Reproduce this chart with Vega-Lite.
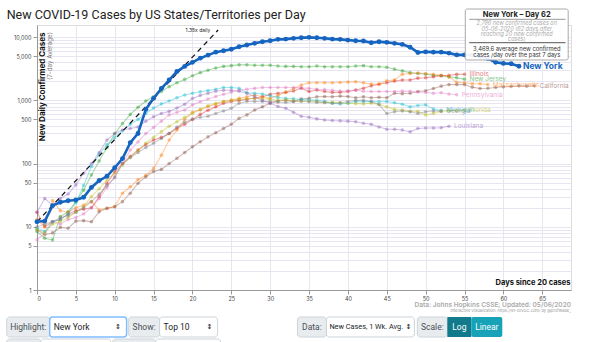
{
"$schema": "https://vega.github.io/schema/vega-lite/v6.json",
"width": 534, "height": 265,
"autosize": {"type": "none"},
"padding": {"left": 37, "top": 25, "right": 29, "bottom": 52},
"config": {"view": {"stroke": "#dcdcdc"}},
"datasets": {"cases": [
{"state":"New York","day":0,"cases":12},{"state":"New York","day":1,"cases":12.3},{"state":"New York","day":2,"cases":21.6},{"state":"New York","day":3,"cases":24.4},{"state":"New York","day":4,"cases":25.9},{"state":"New York","day":5,"cases":26.5},{"state":"New York","day":6,"cases":29.3},{"state":"New York","day":7,"cases":42},{"state":"New York","day":8,"cases":54},{"state":"New York","day":9,"cases":63},{"state":"New York","day":10,"cases":86},{"state":"New York","day":11,"cases":120},{"state":"New York","day":12,"cases":215},{"state":"New York","day":13,"cases":300},{"state":"New York","day":14,"cases":720},{"state":"New York","day":15,"cases":1077},{"state":"New York","day":16,"cases":1540},{"state":"New York","day":17,"cases":2100},{"state":"New York","day":18,"cases":2860},{"state":"New York","day":19,"cases":3450},{"state":"New York","day":20,"cases":4000},{"state":"New York","day":21,"cases":4660},{"state":"New York","day":22,"cases":5200},{"state":"New York","day":23,"cases":5800},{"state":"New York","day":24,"cases":6120},{"state":"New York","day":25,"cases":6450},{"state":"New York","day":26,"cases":7080},{"state":"New York","day":27,"cases":7530},{"state":"New York","day":28,"cases":8000},{"state":"New York","day":29,"cases":8480},{"state":"New York","day":30,"cases":8800},{"state":"New York","day":31,"cases":9250},{"state":"New York","day":32,"cases":9340},{"state":"New York","day":33,"cases":9600},{"state":"New York","day":34,"cases":9800},{"state":"New York","day":35,"cases":9940},{"state":"New York","day":36,"cases":9800},{"state":"New York","day":37,"cases":9600},{"state":"New York","day":38,"cases":9340},{"state":"New York","day":39,"cases":9250},{"state":"New York","day":40,"cases":9000},{"state":"New York","day":41,"cases":8800},{"state":"New York","day":42,"cases":8700},{"state":"New York","day":43,"cases":8170},{"state":"New York","day":44,"cases":8480},{"state":"New York","day":45,"cases":8290},{"state":"New York","day":46,"cases":8000},{"state":"New York","day":47,"cases":7700},{"state":"New York","day":48,"cases":6940},{"state":"New York","day":49,"cases":5740},{"state":"New York","day":50,"cases":5870},{"state":"New York","day":51,"cases":5800},{"state":"New York","day":52,"cases":5800},{"state":"New York","day":53,"cases":5600},{"state":"New York","day":54,"cases":5250},{"state":"New York","day":55,"cases":5250},{"state":"New York","day":56,"cases":5200},{"state":"New York","day":57,"cases":4900},{"state":"New York","day":58,"cases":4600},{"state":"New York","day":59,"cases":4000},{"state":"New York","day":60,"cases":3850},{"state":"New York","day":61,"cases":3800},{"state":"New York","day":62,"cases":3470},
{"state":"New Jersey","day":0,"cases":8.4},{"state":"New Jersey","day":1,"cases":6.6},{"state":"New Jersey","day":2,"cases":6.2},{"state":"New Jersey","day":3,"cases":14.5},{"state":"New Jersey","day":4,"cases":17.3},{"state":"New Jersey","day":5,"cases":25},{"state":"New Jersey","day":6,"cases":38},{"state":"New Jersey","day":7,"cases":66},{"state":"New Jersey","day":8,"cases":110},{"state":"New Jersey","day":9,"cases":180},{"state":"New Jersey","day":10,"cases":300},{"state":"New Jersey","day":11,"cases":430},{"state":"New Jersey","day":12,"cases":600},{"state":"New Jersey","day":13,"cases":780},{"state":"New Jersey","day":14,"cases":980},{"state":"New Jersey","day":15,"cases":1150},{"state":"New Jersey","day":16,"cases":1380},{"state":"New Jersey","day":17,"cases":1650},{"state":"New Jersey","day":18,"cases":1900},{"state":"New Jersey","day":19,"cases":2150},{"state":"New Jersey","day":20,"cases":2450},{"state":"New Jersey","day":21,"cases":2750},{"state":"New Jersey","day":22,"cases":3000},{"state":"New Jersey","day":23,"cases":3250},{"state":"New Jersey","day":24,"cases":3450},{"state":"New Jersey","day":25,"cases":3550},{"state":"New Jersey","day":26,"cases":3650},{"state":"New Jersey","day":27,"cases":3650},{"state":"New Jersey","day":28,"cases":3600},{"state":"New Jersey","day":29,"cases":3600},{"state":"New Jersey","day":30,"cases":3600},{"state":"New Jersey","day":31,"cases":3500},{"state":"New Jersey","day":32,"cases":3450},{"state":"New Jersey","day":33,"cases":3450},{"state":"New Jersey","day":34,"cases":3400},{"state":"New Jersey","day":35,"cases":3400},{"state":"New Jersey","day":36,"cases":3500},{"state":"New Jersey","day":37,"cases":3400},{"state":"New Jersey","day":38,"cases":3400},{"state":"New Jersey","day":39,"cases":3400},{"state":"New Jersey","day":40,"cases":3400},{"state":"New Jersey","day":41,"cases":3500},{"state":"New Jersey","day":42,"cases":3550},{"state":"New Jersey","day":43,"cases":3400},{"state":"New Jersey","day":44,"cases":3400},{"state":"New Jersey","day":45,"cases":3350},{"state":"New Jersey","day":46,"cases":3120},{"state":"New Jersey","day":47,"cases":2930},{"state":"New Jersey","day":48,"cases":2750},{"state":"New Jersey","day":49,"cases":2660},{"state":"New Jersey","day":50,"cases":2600},{"state":"New Jersey","day":51,"cases":2500},{"state":"New Jersey","day":52,"cases":2450},{"state":"New Jersey","day":53,"cases":2360},{"state":"New Jersey","day":54,"cases":2280},{"state":"New Jersey","day":55,"cases":2170},
{"state":"Illinois","day":0,"cases":17},{"state":"Illinois","day":1,"cases":10},{"state":"Illinois","day":2,"cases":12},{"state":"Illinois","day":3,"cases":13},{"state":"Illinois","day":4,"cases":16},{"state":"Illinois","day":5,"cases":18},{"state":"Illinois","day":6,"cases":19},{"state":"Illinois","day":7,"cases":20},{"state":"Illinois","day":8,"cases":30},{"state":"Illinois","day":9,"cases":49},{"state":"Illinois","day":10,"cases":74},{"state":"Illinois","day":11,"cases":100},{"state":"Illinois","day":12,"cases":130},{"state":"Illinois","day":13,"cases":164},{"state":"Illinois","day":14,"cases":200},{"state":"Illinois","day":15,"cases":236},{"state":"Illinois","day":16,"cases":260},{"state":"Illinois","day":17,"cases":300},{"state":"Illinois","day":18,"cases":360},{"state":"Illinois","day":19,"cases":420},{"state":"Illinois","day":20,"cases":500},{"state":"Illinois","day":21,"cases":600},{"state":"Illinois","day":22,"cases":700},{"state":"Illinois","day":23,"cases":790},{"state":"Illinois","day":24,"cases":900},{"state":"Illinois","day":25,"cases":960},{"state":"Illinois","day":26,"cases":1000},{"state":"Illinois","day":27,"cases":1040},{"state":"Illinois","day":28,"cases":1080},{"state":"Illinois","day":29,"cases":1140},{"state":"Illinois","day":30,"cases":1250},{"state":"Illinois","day":31,"cases":1300},{"state":"Illinois","day":32,"cases":1340},{"state":"Illinois","day":33,"cases":1410},{"state":"Illinois","day":34,"cases":1560},{"state":"Illinois","day":35,"cases":1380},{"state":"Illinois","day":36,"cases":1460},{"state":"Illinois","day":37,"cases":1380},{"state":"Illinois","day":38,"cases":1340},{"state":"Illinois","day":39,"cases":1340},{"state":"Illinois","day":40,"cases":1380},{"state":"Illinois","day":41,"cases":1460},{"state":"Illinois","day":42,"cases":1560},{"state":"Illinois","day":43,"cases":1700},{"state":"Illinois","day":44,"cases":1800},{"state":"Illinois","day":45,"cases":1900},{"state":"Illinois","day":46,"cases":2020},{"state":"Illinois","day":47,"cases":2100},{"state":"Illinois","day":48,"cases":2100},{"state":"Illinois","day":49,"cases":2250},{"state":"Illinois","day":50,"cases":2280},{"state":"Illinois","day":51,"cases":2360},{"state":"Illinois","day":52,"cases":2450},{"state":"Illinois","day":53,"cases":2500},{"state":"Illinois","day":54,"cases":2580},{"state":"Illinois","day":55,"cases":2600},
{"state":"Massachusetts","day":0,"cases":13},{"state":"Massachusetts","day":1,"cases":10},{"state":"Massachusetts","day":2,"cases":26},{"state":"Massachusetts","day":3,"cases":18},{"state":"Massachusetts","day":4,"cases":17},{"state":"Massachusetts","day":5,"cases":20},{"state":"Massachusetts","day":6,"cases":22},{"state":"Massachusetts","day":7,"cases":25},{"state":"Massachusetts","day":8,"cases":18.4},{"state":"Massachusetts","day":9,"cases":19.6},{"state":"Massachusetts","day":10,"cases":21},{"state":"Massachusetts","day":11,"cases":34},{"state":"Massachusetts","day":12,"cases":43},{"state":"Massachusetts","day":13,"cases":56},{"state":"Massachusetts","day":14,"cases":65},{"state":"Massachusetts","day":15,"cases":84},{"state":"Massachusetts","day":16,"cases":136},{"state":"Massachusetts","day":17,"cases":236},{"state":"Massachusetts","day":18,"cases":340},{"state":"Massachusetts","day":19,"cases":500},{"state":"Massachusetts","day":20,"cases":650},{"state":"Massachusetts","day":21,"cases":705},{"state":"Massachusetts","day":22,"cases":800},{"state":"Massachusetts","day":23,"cases":870},{"state":"Massachusetts","day":24,"cases":960},{"state":"Massachusetts","day":25,"cases":1015},{"state":"Massachusetts","day":26,"cases":1077},{"state":"Massachusetts","day":27,"cases":1140},{"state":"Massachusetts","day":28,"cases":1220},{"state":"Massachusetts","day":29,"cases":1140},{"state":"Massachusetts","day":30,"cases":1077},{"state":"Massachusetts","day":31,"cases":1200},{"state":"Massachusetts","day":32,"cases":1350},{"state":"Massachusetts","day":33,"cases":1540},{"state":"Massachusetts","day":34,"cases":1750},{"state":"Massachusetts","day":35,"cases":1900},{"state":"Massachusetts","day":36,"cases":1900},{"state":"Massachusetts","day":37,"cases":1900},{"state":"Massachusetts","day":38,"cases":1900},{"state":"Massachusetts","day":39,"cases":1920},{"state":"Massachusetts","day":40,"cases":1950},{"state":"Massachusetts","day":41,"cases":1970},{"state":"Massachusetts","day":42,"cases":1900},{"state":"Massachusetts","day":43,"cases":1820},{"state":"Massachusetts","day":44,"cases":1820},{"state":"Massachusetts","day":45,"cases":2040},{"state":"Massachusetts","day":46,"cases":2100},{"state":"Massachusetts","day":47,"cases":2600},{"state":"Massachusetts","day":48,"cases":2660},{"state":"Massachusetts","day":49,"cases":2720},{"state":"Massachusetts","day":50,"cases":2660},{"state":"Massachusetts","day":51,"cases":2580},{"state":"Massachusetts","day":52,"cases":2500},{"state":"Massachusetts","day":53,"cases":2360},{"state":"Massachusetts","day":54,"cases":1940},{"state":"Massachusetts","day":55,"cases":1900},{"state":"Massachusetts","day":56,"cases":1830},{"state":"Massachusetts","day":57,"cases":1830},{"state":"Massachusetts","day":58,"cases":1780},
{"state":"California","day":0,"cases":9},{"state":"California","day":1,"cases":7.5},{"state":"California","day":2,"cases":8},{"state":"California","day":3,"cases":9.8},{"state":"California","day":4,"cases":9.5},{"state":"California","day":5,"cases":12.3},{"state":"California","day":6,"cases":12.5},{"state":"California","day":7,"cases":12},{"state":"California","day":8,"cases":17.3},{"state":"California","day":9,"cases":19.6},{"state":"California","day":10,"cases":20.8},{"state":"California","day":11,"cases":25},{"state":"California","day":12,"cases":34},{"state":"California","day":13,"cases":49},{"state":"California","day":14,"cases":62},{"state":"California","day":15,"cases":75},{"state":"California","day":16,"cases":81},{"state":"California","day":17,"cases":100},{"state":"California","day":18,"cases":121},{"state":"California","day":19,"cases":150},{"state":"California","day":20,"cases":185},{"state":"California","day":21,"cases":222},{"state":"California","day":22,"cases":265},{"state":"California","day":23,"cases":308},{"state":"California","day":24,"cases":360},{"state":"California","day":25,"cases":420},{"state":"California","day":26,"cases":520},{"state":"California","day":27,"cases":590},{"state":"California","day":28,"cases":705},{"state":"California","day":29,"cases":790},{"state":"California","day":30,"cases":900},{"state":"California","day":31,"cases":980},{"state":"California","day":32,"cases":1015},{"state":"California","day":33,"cases":960},{"state":"California","day":34,"cases":1050},{"state":"California","day":35,"cases":1080},{"state":"California","day":36,"cases":1140},{"state":"California","day":37,"cases":1150},{"state":"California","day":38,"cases":1140},{"state":"California","day":39,"cases":1170},{"state":"California","day":40,"cases":1150},{"state":"California","day":41,"cases":1100},{"state":"California","day":42,"cases":1140},{"state":"California","day":43,"cases":1100},{"state":"California","day":44,"cases":1120},{"state":"California","day":45,"cases":1100},{"state":"California","day":46,"cases":1300},{"state":"California","day":47,"cases":1280},{"state":"California","day":48,"cases":1300},{"state":"California","day":49,"cases":1380},{"state":"California","day":50,"cases":1420},{"state":"California","day":51,"cases":1540},{"state":"California","day":52,"cases":1680},{"state":"California","day":53,"cases":1780},{"state":"California","day":54,"cases":1780},{"state":"California","day":55,"cases":1780},{"state":"California","day":56,"cases":1620},{"state":"California","day":57,"cases":1540},{"state":"California","day":58,"cases":1560},{"state":"California","day":59,"cases":1600},{"state":"California","day":60,"cases":1640},{"state":"California","day":61,"cases":1660},{"state":"California","day":62,"cases":1700},{"state":"California","day":63,"cases":1680},{"state":"California","day":64,"cases":1700},
{"state":"Pennsylvania","day":0,"cases":6.2},{"state":"Pennsylvania","day":1,"cases":8},{"state":"Pennsylvania","day":2,"cases":12},{"state":"Pennsylvania","day":3,"cases":11},{"state":"Pennsylvania","day":4,"cases":13},{"state":"Pennsylvania","day":5,"cases":14},{"state":"Pennsylvania","day":6,"cases":16},{"state":"Pennsylvania","day":7,"cases":20},{"state":"Pennsylvania","day":8,"cases":28},{"state":"Pennsylvania","day":9,"cases":42},{"state":"Pennsylvania","day":10,"cases":62},{"state":"Pennsylvania","day":11,"cases":100},{"state":"Pennsylvania","day":12,"cases":164},{"state":"Pennsylvania","day":13,"cases":220},{"state":"Pennsylvania","day":14,"cases":300},{"state":"Pennsylvania","day":15,"cases":375},{"state":"Pennsylvania","day":16,"cases":470},{"state":"Pennsylvania","day":17,"cases":590},{"state":"Pennsylvania","day":18,"cases":650},{"state":"Pennsylvania","day":19,"cases":705},{"state":"Pennsylvania","day":20,"cases":850},{"state":"Pennsylvania","day":21,"cases":950},{"state":"Pennsylvania","day":22,"cases":1050},{"state":"Pennsylvania","day":23,"cases":1150},{"state":"Pennsylvania","day":24,"cases":1250},{"state":"Pennsylvania","day":25,"cases":1350},{"state":"Pennsylvania","day":26,"cases":1450},{"state":"Pennsylvania","day":27,"cases":1500},{"state":"Pennsylvania","day":28,"cases":1550},{"state":"Pennsylvania","day":29,"cases":1600},{"state":"Pennsylvania","day":30,"cases":1600},{"state":"Pennsylvania","day":31,"cases":1600},{"state":"Pennsylvania","day":32,"cases":1600},{"state":"Pennsylvania","day":33,"cases":1600},{"state":"Pennsylvania","day":34,"cases":1580},{"state":"Pennsylvania","day":35,"cases":1550},{"state":"Pennsylvania","day":36,"cases":1500},{"state":"Pennsylvania","day":37,"cases":1480},{"state":"Pennsylvania","day":38,"cases":1450},{"state":"Pennsylvania","day":39,"cases":1400},{"state":"Pennsylvania","day":40,"cases":1420},{"state":"Pennsylvania","day":41,"cases":1450},{"state":"Pennsylvania","day":42,"cases":1400},{"state":"Pennsylvania","day":43,"cases":1380},{"state":"Pennsylvania","day":44,"cases":1380},{"state":"Pennsylvania","day":45,"cases":1380},{"state":"Pennsylvania","day":46,"cases":1380},{"state":"Pennsylvania","day":47,"cases":1400},{"state":"Pennsylvania","day":48,"cases":1390},{"state":"Pennsylvania","day":49,"cases":1360},{"state":"Pennsylvania","day":50,"cases":1340},{"state":"Pennsylvania","day":51,"cases":1300},{"state":"Pennsylvania","day":52,"cases":1320},{"state":"Pennsylvania","day":53,"cases":1260},{"state":"Pennsylvania","day":54,"cases":1230},
{"state":"Michigan","day":0,"cases":9.5},{"state":"Michigan","day":1,"cases":8.4},{"state":"Michigan","day":2,"cases":12},{"state":"Michigan","day":3,"cases":13},{"state":"Michigan","day":4,"cases":16},{"state":"Michigan","day":5,"cases":24},{"state":"Michigan","day":6,"cases":45},{"state":"Michigan","day":7,"cases":90},{"state":"Michigan","day":8,"cases":141},{"state":"Michigan","day":9,"cases":200},{"state":"Michigan","day":10,"cases":260},{"state":"Michigan","day":11,"cases":330},{"state":"Michigan","day":12,"cases":420},{"state":"Michigan","day":13,"cases":500},{"state":"Michigan","day":14,"cases":620},{"state":"Michigan","day":15,"cases":760},{"state":"Michigan","day":16,"cases":880},{"state":"Michigan","day":17,"cases":980},{"state":"Michigan","day":18,"cases":1100},{"state":"Michigan","day":19,"cases":1220},{"state":"Michigan","day":20,"cases":1300},{"state":"Michigan","day":21,"cases":1370},{"state":"Michigan","day":22,"cases":1430},{"state":"Michigan","day":23,"cases":1500},{"state":"Michigan","day":24,"cases":1600},{"state":"Michigan","day":25,"cases":1600},{"state":"Michigan","day":26,"cases":1560},{"state":"Michigan","day":27,"cases":1320},{"state":"Michigan","day":28,"cases":1290},{"state":"Michigan","day":29,"cases":1260},{"state":"Michigan","day":30,"cases":1180},{"state":"Michigan","day":31,"cases":1110},{"state":"Michigan","day":32,"cases":1080},{"state":"Michigan","day":33,"cases":1060},{"state":"Michigan","day":34,"cases":1040},{"state":"Michigan","day":35,"cases":1020},{"state":"Michigan","day":36,"cases":1000},{"state":"Michigan","day":37,"cases":970},{"state":"Michigan","day":38,"cases":900},{"state":"Michigan","day":39,"cases":880},{"state":"Michigan","day":40,"cases":900},{"state":"Michigan","day":41,"cases":960},{"state":"Michigan","day":42,"cases":950},{"state":"Michigan","day":43,"cases":960},{"state":"Michigan","day":44,"cases":950},{"state":"Michigan","day":45,"cases":960},{"state":"Michigan","day":46,"cases":920},{"state":"Michigan","day":47,"cases":870},{"state":"Michigan","day":48,"cases":790},{"state":"Michigan","day":49,"cases":830},{"state":"Michigan","day":50,"cases":850},{"state":"Michigan","day":51,"cases":730},{"state":"Michigan","day":52,"cases":700},
{"state":"Florida","day":0,"cases":9},{"state":"Florida","day":1,"cases":8},{"state":"Florida","day":2,"cases":11},{"state":"Florida","day":3,"cases":12},{"state":"Florida","day":4,"cases":14},{"state":"Florida","day":5,"cases":17},{"state":"Florida","day":6,"cases":21},{"state":"Florida","day":7,"cases":30},{"state":"Florida","day":8,"cases":40},{"state":"Florida","day":9,"cases":55},{"state":"Florida","day":10,"cases":70},{"state":"Florida","day":11,"cases":95},{"state":"Florida","day":12,"cases":125},{"state":"Florida","day":13,"cases":160},{"state":"Florida","day":14,"cases":210},{"state":"Florida","day":15,"cases":260},{"state":"Florida","day":16,"cases":320},{"state":"Florida","day":17,"cases":390},{"state":"Florida","day":18,"cases":460},{"state":"Florida","day":19,"cases":540},{"state":"Florida","day":20,"cases":620},{"state":"Florida","day":21,"cases":720},{"state":"Florida","day":22,"cases":820},{"state":"Florida","day":23,"cases":900},{"state":"Florida","day":24,"cases":960},{"state":"Florida","day":25,"cases":1000},{"state":"Florida","day":26,"cases":1040},{"state":"Florida","day":27,"cases":1060},{"state":"Florida","day":28,"cases":1080},{"state":"Florida","day":29,"cases":1060},{"state":"Florida","day":30,"cases":1040},{"state":"Florida","day":31,"cases":1000},{"state":"Florida","day":32,"cases":1020},{"state":"Florida","day":33,"cases":1000},{"state":"Florida","day":34,"cases":960},{"state":"Florida","day":35,"cases":980},{"state":"Florida","day":36,"cases":960},{"state":"Florida","day":37,"cases":920},{"state":"Florida","day":38,"cases":940},{"state":"Florida","day":39,"cases":920},{"state":"Florida","day":40,"cases":900},{"state":"Florida","day":41,"cases":890},{"state":"Florida","day":42,"cases":880},{"state":"Florida","day":43,"cases":900},{"state":"Florida","day":44,"cases":860},{"state":"Florida","day":45,"cases":790},{"state":"Florida","day":46,"cases":720},{"state":"Florida","day":47,"cases":705},{"state":"Florida","day":48,"cases":670},{"state":"Florida","day":49,"cases":670},{"state":"Florida","day":50,"cases":590},{"state":"Florida","day":51,"cases":620},{"state":"Florida","day":52,"cases":670},{"state":"Florida","day":53,"cases":690},{"state":"Florida","day":54,"cases":690},{"state":"Florida","day":55,"cases":700},
{"state":"Louisiana","day":0,"cases":17},{"state":"Louisiana","day":1,"cases":28},{"state":"Louisiana","day":2,"cases":22},{"state":"Louisiana","day":3,"cases":28},{"state":"Louisiana","day":4,"cases":33},{"state":"Louisiana","day":5,"cases":46},{"state":"Louisiana","day":6,"cases":70},{"state":"Louisiana","day":7,"cases":100},{"state":"Louisiana","day":8,"cases":150},{"state":"Louisiana","day":9,"cases":236},{"state":"Louisiana","day":10,"cases":300},{"state":"Louisiana","day":11,"cases":340},{"state":"Louisiana","day":12,"cases":360},{"state":"Louisiana","day":13,"cases":380},{"state":"Louisiana","day":14,"cases":470},{"state":"Louisiana","day":15,"cases":550},{"state":"Louisiana","day":16,"cases":620},{"state":"Louisiana","day":17,"cases":670},{"state":"Louisiana","day":18,"cases":760},{"state":"Louisiana","day":19,"cases":870},{"state":"Louisiana","day":20,"cases":1077},{"state":"Louisiana","day":21,"cases":1200},{"state":"Louisiana","day":22,"cases":1300},{"state":"Louisiana","day":23,"cases":1400},{"state":"Louisiana","day":24,"cases":1450},{"state":"Louisiana","day":25,"cases":1450},{"state":"Louisiana","day":26,"cases":1400},{"state":"Louisiana","day":27,"cases":1300},{"state":"Louisiana","day":28,"cases":1150},{"state":"Louisiana","day":29,"cases":1000},{"state":"Louisiana","day":30,"cases":900},{"state":"Louisiana","day":31,"cases":800},{"state":"Louisiana","day":32,"cases":750},{"state":"Louisiana","day":33,"cases":650},{"state":"Louisiana","day":34,"cases":560},{"state":"Louisiana","day":35,"cases":540},{"state":"Louisiana","day":36,"cases":510},{"state":"Louisiana","day":37,"cases":490},{"state":"Louisiana","day":38,"cases":480},{"state":"Louisiana","day":39,"cases":475},{"state":"Louisiana","day":40,"cases":470},{"state":"Louisiana","day":41,"cases":460},{"state":"Louisiana","day":42,"cases":435},{"state":"Louisiana","day":43,"cases":420},{"state":"Louisiana","day":44,"cases":380},{"state":"Louisiana","day":45,"cases":350},{"state":"Louisiana","day":46,"cases":350},{"state":"Louisiana","day":47,"cases":340},{"state":"Louisiana","day":48,"cases":318},{"state":"Louisiana","day":49,"cases":360},{"state":"Louisiana","day":50,"cases":365},{"state":"Louisiana","day":51,"cases":365},{"state":"Louisiana","day":52,"cases":370},{"state":"Louisiana","day":53,"cases":390},
{"state":"Georgia","day":0,"cases":10},{"state":"Georgia","day":1,"cases":11},{"state":"Georgia","day":2,"cases":12},{"state":"Georgia","day":3,"cases":14},{"state":"Georgia","day":4,"cases":15},{"state":"Georgia","day":5,"cases":17},{"state":"Georgia","day":6,"cases":20},{"state":"Georgia","day":7,"cases":25},{"state":"Georgia","day":8,"cases":33},{"state":"Georgia","day":9,"cases":45},{"state":"Georgia","day":10,"cases":60},{"state":"Georgia","day":11,"cases":100},{"state":"Georgia","day":12,"cases":125},{"state":"Georgia","day":13,"cases":150},{"state":"Georgia","day":14,"cases":180},{"state":"Georgia","day":15,"cases":210},{"state":"Georgia","day":16,"cases":250},{"state":"Georgia","day":17,"cases":300},{"state":"Georgia","day":18,"cases":380},{"state":"Georgia","day":19,"cases":450},{"state":"Georgia","day":20,"cases":505},{"state":"Georgia","day":21,"cases":540},{"state":"Georgia","day":22,"cases":560},{"state":"Georgia","day":23,"cases":620},{"state":"Georgia","day":24,"cases":680},{"state":"Georgia","day":25,"cases":750},{"state":"Georgia","day":26,"cases":900},{"state":"Georgia","day":27,"cases":960},{"state":"Georgia","day":28,"cases":960},{"state":"Georgia","day":29,"cases":960},{"state":"Georgia","day":30,"cases":960},{"state":"Georgia","day":31,"cases":940},{"state":"Georgia","day":32,"cases":930},{"state":"Georgia","day":33,"cases":960},{"state":"Georgia","day":34,"cases":980},{"state":"Georgia","day":35,"cases":950},{"state":"Georgia","day":36,"cases":930},{"state":"Georgia","day":37,"cases":930},{"state":"Georgia","day":38,"cases":900},{"state":"Georgia","day":39,"cases":920},{"state":"Georgia","day":40,"cases":960},{"state":"Georgia","day":41,"cases":1000},{"state":"Georgia","day":42,"cases":1000},{"state":"Georgia","day":43,"cases":960},{"state":"Georgia","day":44,"cases":860},{"state":"Georgia","day":45,"cases":620},{"state":"Georgia","day":46,"cases":660},{"state":"Georgia","day":47,"cases":680},{"state":"Georgia","day":48,"cases":660},{"state":"Georgia","day":49,"cases":620},{"state":"Georgia","day":50,"cases":660},{"state":"Georgia","day":51,"cases":680},{"state":"Georgia","day":52,"cases":670}
]},
"layer": [
{"data": {"name": "cases"}, "transform": [{"filter": "datum.state != 'New York'"}],
 "mark": {"type": "line", "strokeWidth": 1.1, "opacity": 0.4},
 "encoding": {
  "x": {"field": "day", "type": "quantitative", "scale": {"domain": [0, 68.7], "nice": false, "zero": false},
   "axis": {"title": "Days since 20 cases", "values": [0,5,10,15,20,25,30,35,40,45,50,55,60,65], "grid": true, "gridColor": "#e7e5f1", "labelFont": "Inter", "labelFontSize": 5.5, "labelColor": "#444", "labelPadding": 2, "tickSize": 4, "tickColor": "#999", "domainColor": "#999",
    "titleFont": "Inter", "titleFontSize": 7.5, "titleFontWeight": "bold", "titleColor": "#111", "titleX": 533, "titleY": -6, "titleAlign": "right", "titleBaseline": "alphabetic"}},
  "y": {"field": "cases", "type": "quantitative", "scale": {"type": "log", "domain": [1, 15600], "nice": false},
   "axis": {"title": "New Daily Confirmed Cases", "values": [1,2,3,4,5,6,7,8,9,10,20,30,40,50,60,70,80,90,100,200,300,400,500,600,700,800,900,1000,2000,3000,4000,5000,6000,7000,8000,9000,10000],
    "labelExpr": "indexof([1,5,10,50,100,500,1000,5000,10000], datum.value) >= 0 ? format(datum.value, ',') : ''",
    "tickOpacity": {"condition": {"test": "indexof([1,5,10,50,100,500,1000,5000,10000], datum.value) >= 0", "value": 1}, "value": 0},
    "grid": true, "gridColor": "#e7e5f1", "labelFont": "Inter", "labelFontSize": 5.5, "labelColor": "#444", "labelPadding": 2, "tickSize": 4, "tickColor": "#999", "domainColor": "#999",
    "titleFont": "Inter", "titleFontSize": 8, "titleFontWeight": "bold", "titleColor": "#111", "titleAngle": 270, "titleX": 5.5, "titleY": 7, "titleAlign": "right", "titleBaseline": "middle"}},
  "color": {"field": "state", "type": "nominal", "legend": null,
   "scale": {"domain": ["New York","New Jersey","Illinois","Massachusetts","California","Pennsylvania","Michigan","Florida","Louisiana","Georgia"],
    "range": ["#1565c0","#2ca02c","#d62728","#ff7f0e","#8c564b","#e377c2","#17becf","#bcbd22","#9467bd","#7f7f7f"]}}
 }},
{"data": {"name": "cases"}, "transform": [{"filter": "datum.state != 'New York'"}],
 "mark": {"type": "circle", "size": 13, "opacity": 0.45},
 "encoding": {
  "x": {"field": "day", "type": "quantitative"},
  "y": {"field": "cases", "type": "quantitative"},
  "color": {"field": "state", "type": "nominal", "legend": null}
 }},
{"data": {"values": [{"day": 0, "cases": 12}, {"day": 23.3, "cases": 13000}]},
 "mark": {"type": "line", "color": "#111", "strokeWidth": 1.2, "strokeDash": [5, 4]},
 "encoding": {
  "x": {"field": "day", "type": "quantitative"},
  "y": {"field": "cases", "type": "quantitative"}
 }},
{"data": {"name": "cases"}, "transform": [{"filter": "datum.state == 'New York'"}],
 "mark": {"type": "line", "color": "#1565c0", "strokeWidth": 2.6},
 "encoding": {
  "x": {"field": "day", "type": "quantitative"},
  "y": {"field": "cases", "type": "quantitative"}
 }},
{"data": {"name": "cases"}, "transform": [{"filter": "datum.state == 'New York'"}],
 "mark": {"type": "circle", "color": "#1565c0", "size": 24, "opacity": 1},
 "encoding": {
  "x": {"field": "day", "type": "quantitative"},
  "y": {"field": "cases", "type": "quantitative"}
 }},
{"data": {"name": "cases"}, "transform": [{"filter": "datum.state != 'New York'"}, {"joinaggregate": [{"op": "max", "field": "day", "as": "maxday"}], "groupby": ["state"]}, {"filter": "datum.day == datum.maxday"}],
 "mark": {"type": "text", "align": "left", "baseline": "middle", "dx": 5, "font": "Inter", "fontSize": 6.5, "opacity": 0.6},
 "encoding": {
  "x": {"field": "day", "type": "quantitative"},
  "y": {"field": "cases", "type": "quantitative"},
  "text": {"field": "state"},
  "color": {"field": "state", "type": "nominal", "legend": null}
 }},
{"data": {"name": "cases"}, "transform": [{"filter": "datum.state == 'New York'"}, {"joinaggregate": [{"op": "max", "field": "day", "as": "maxday"}]}, {"filter": "datum.day == datum.maxday"}],
 "mark": {"type": "text", "align": "left", "baseline": "middle", "dx": 4, "font": "Inter", "fontSize": 8.5, "fontWeight": "bold", "color": "#1565c0"},
 "encoding": {
  "x": {"field": "day", "type": "quantitative"},
  "y": {"field": "cases", "type": "quantitative"},
  "text": {"field": "state"}
 }},
{"data": {"values": [{}]},
 "mark": {"type": "text", "text": "New COVID-19 Cases by US States/Territories per Day", "align": "left", "baseline": "alphabetic", "font": "Roboto", "fontSize": 12.5, "color": "#222"},
 "encoding": {"x": {"datum": -3.9, "type": "quantitative"}, "y": {"datum": 19760, "type": "quantitative"}}},
{"data": {"values": [{}]},
 "mark": {"type": "text", "text": "1.35x daily", "align": "right", "baseline": "middle", "font": "Inter", "fontSize": 5, "color": "#222"},
 "encoding": {"x": {"datum": 22.3, "type": "quantitative"}, "y": {"datum": 12800, "type": "quantitative"}}},
{"data": {"values": [{}]},
 "mark": {"type": "text", "text": "(7-day Average)", "angle": 270, "align": "right", "baseline": "middle", "font": "Inter", "fontSize": 6.3, "color": "#777"},
 "encoding": {"x": {"datum": 1.63, "type": "quantitative"}, "y": {"datum": 12080, "type": "quantitative"}}},
{"data": {"values": [{}]},
 "mark": {"type": "rect", "fill": "#ffffff", "fillOpacity": 0.93, "stroke": "#aaaaaa", "strokeWidth": 1, "cornerRadius": 2},
 "encoding": {"x": {"datum": 55.1, "type": "quantitative"}, "x2": {"datum": 68.34}, "y": {"datum": 27940, "type": "quantitative"}, "y2": {"datum": 4357}}},
{"data": {"values": [{}]},
 "mark": {"type": "rule", "color": "#999", "strokeWidth": 1},
 "encoding": {"x": {"datum": 55.6, "type": "quantitative"}, "x2": {"datum": 68.0}, "y": {"datum": 19200, "type": "quantitative"}}},
{"data": {"values": [{}]},
 "mark": {"type": "rule", "color": "#555", "strokeWidth": 1},
 "encoding": {"x": {"datum": 55.6, "type": "quantitative"}, "x2": {"datum": 68.0}, "y": {"datum": 8185, "type": "quantitative"}}},
{"data": {"values": [{}]},
 "mark": {"type": "text", "text": "New York – Day 62", "align": "center", "baseline": "middle", "font": "Inter", "fontSize": 7.5, "fontWeight": "bold", "color": "#222"},
 "encoding": {"x": {"datum": 61.72, "type": "quantitative"}, "y": {"datum": 22460, "type": "quantitative"}}},
{"data": {"values": [{}]},
 "mark": {"type": "text", "text": "2,786 new confirmed cases on", "align": "center", "baseline": "middle", "font": "Inter", "fontSize": 5.5, "fontStyle": "italic", "color": "#aaa"},
 "encoding": {"x": {"datum": 61.72, "type": "quantitative"}, "y": {"datum": 16590, "type": "quantitative"}}},
{"data": {"values": [{}]},
 "mark": {"type": "text", "text": "05-06-2020 (62 days after", "align": "center", "baseline": "middle", "font": "Inter", "fontSize": 5.5, "fontStyle": "italic", "color": "#aaa"},
 "encoding": {"x": {"datum": 61.72, "type": "quantitative"}, "y": {"datum": 13630, "type": "quantitative"}}},
{"data": {"values": [{}]},
 "mark": {"type": "text", "text": "reaching 20 new confirmed", "align": "center", "baseline": "middle", "font": "Inter", "fontSize": 5.5, "fontStyle": "italic", "color": "#aaa"},
 "encoding": {"x": {"datum": 61.72, "type": "quantitative"}, "y": {"datum": 11230, "type": "quantitative"}}},
{"data": {"values": [{}]},
 "mark": {"type": "text", "text": "cases)", "align": "center", "baseline": "middle", "font": "Inter", "fontSize": 5.5, "fontStyle": "italic", "color": "#aaa"},
 "encoding": {"x": {"datum": 61.72, "type": "quantitative"}, "y": {"datum": 9263, "type": "quantitative"}}},
{"data": {"values": [{}]},
 "mark": {"type": "text", "text": "3,469.6 average new confirmed", "align": "center", "baseline": "middle", "font": "Inter", "fontSize": 5.8, "color": "#333"},
 "encoding": {"x": {"datum": 61.72, "type": "quantitative"}, "y": {"datum": 6435, "type": "quantitative"}}},
{"data": {"values": [{}]},
 "mark": {"type": "text", "text": "cases /day over the past 7 days", "align": "center", "baseline": "middle", "font": "Inter", "fontSize": 5.8, "color": "#333"},
 "encoding": {"x": {"datum": 61.72, "type": "quantitative"}, "y": {"datum": 5171, "type": "quantitative"}}},
{"data": {"values": [{}]},
 "mark": {"type": "text", "text": "Data: Johns Hopkins CSSE; Updated: 05/06/2020", "align": "right", "baseline": "middle", "font": "Inter", "fontSize": 6.5, "fontWeight": 600, "color": "#aaa"},
 "encoding": {"x": {"datum": 68.7, "type": "quantitative"}, "y": {"datum": 0.579, "type": "quantitative"}}},
{"data": {"values": [{}]},
 "mark": {"type": "text", "text": "Interactive Visualization: https://91-DIVOC.com/ by @profwade_", "align": "right", "baseline": "middle", "font": "Inter", "fontSize": 4, "color": "#999"},
 "encoding": {"x": {"datum": 68.7, "type": "quantitative"}, "y": {"datum": 0.4653, "type": "quantitative"}}},
{"data": {"values": [{}]}, "mark": {"type": "rect", "fill": "#e9ecef", "stroke": "#ced4da", "cornerRadius": 3},
 "encoding": {"x": {"datum": -3.895, "type": "quantitative"}, "x2": {"datum": 1.632}, "y": {"datum": 0.374, "type": "quantitative"}, "y2": {"datum": 0.1805}}},
{"data": {"values": [{}]}, "mark": {"type": "rect", "fill": "#ffffff", "stroke": "#80bdff", "strokeWidth": 1.5, "cornerRadius": 3},
 "encoding": {"x": {"datum": 1.632, "type": "quantitative"}, "x2": {"datum": 11.53}, "y": {"datum": 0.374, "type": "quantitative"}, "y2": {"datum": 0.1805}}},
{"data": {"values": [{}]}, "mark": {"type": "rect", "fill": "#e9ecef", "stroke": "#ced4da", "cornerRadius": 3},
 "encoding": {"x": {"datum": 11.79, "type": "quantitative"}, "x2": {"datum": 15.77}, "y": {"datum": 0.374, "type": "quantitative"}, "y2": {"datum": 0.1805}}},
{"data": {"values": [{}]}, "mark": {"type": "rect", "fill": "#ffffff", "stroke": "#ced4da", "cornerRadius": 3},
 "encoding": {"x": {"datum": 15.77, "type": "quantitative"}, "x2": {"datum": 23.23}, "y": {"datum": 0.374, "type": "quantitative"}, "y2": {"datum": 0.1805}}},
{"data": {"values": [{}]}, "mark": {"type": "rect", "fill": "#e9ecef", "stroke": "#ced4da", "cornerRadius": 3},
 "encoding": {"x": {"datum": 33.51, "type": "quantitative"}, "x2": {"datum": 37.24}, "y": {"datum": 0.374, "type": "quantitative"}, "y2": {"datum": 0.1805}}},
{"data": {"values": [{}]}, "mark": {"type": "rect", "fill": "#ffffff", "stroke": "#ced4da", "cornerRadius": 3},
 "encoding": {"x": {"datum": 37.24, "type": "quantitative"}, "x2": {"datum": 48.55}, "y": {"datum": 0.374, "type": "quantitative"}, "y2": {"datum": 0.1805}}},
{"data": {"values": [{}]}, "mark": {"type": "rect", "fill": "#e9ecef", "stroke": "#ced4da", "cornerRadius": 3},
 "encoding": {"x": {"datum": 48.93, "type": "quantitative"}, "x2": {"datum": 52.79}, "y": {"datum": 0.374, "type": "quantitative"}, "y2": {"datum": 0.1805}}},
{"data": {"values": [{}]}, "mark": {"type": "rect", "fill": "#117a8b"},
 "encoding": {"x": {"datum": 52.79, "type": "quantitative"}, "x2": {"datum": 55.87}, "y": {"datum": 0.374, "type": "quantitative"}, "y2": {"datum": 0.1805}}},
{"data": {"values": [{}]}, "mark": {"type": "rect", "fill": "#17a2b8", "cornerRadius": 2},
 "encoding": {"x": {"datum": 55.87, "type": "quantitative"}, "x2": {"datum": 59.86}, "y": {"datum": 0.374, "type": "quantitative"}, "y2": {"datum": 0.1805}}},
{"data": {"values": [{}]}, "mark": {"type": "rect", "fill": "#e9ecef", "stroke": "#ced4da", "cornerRadius": 3},
 "encoding": {"x": {"datum": -3.895, "type": "quantitative"}, "x2": {"datum": 0.476}, "y": {"datum": 0.1678, "type": "quantitative"}, "y2": {"datum": 0.078}}},
{"data": {"values": [{}]}, "mark": {"type": "rect", "fill": "#ffffff", "stroke": "#ced4da", "cornerRadius": 3},
 "encoding": {"x": {"datum": 0.476, "type": "quantitative"}, "x2": {"datum": 9.49}, "y": {"datum": 0.1678, "type": "quantitative"}, "y2": {"datum": 0.078}}},
{"data": {"values": [{}]}, "mark": {"type": "rect", "fill": "#e9ecef", "stroke": "#ced4da", "cornerRadius": 3},
 "encoding": {"x": {"datum": 9.74, "type": "quantitative"}, "x2": {"datum": 15.26}, "y": {"datum": 0.1678, "type": "quantitative"}, "y2": {"datum": 0.078}}},
{"data": {"values": [{}]}, "mark": {"type": "rect", "fill": "#ffffff", "stroke": "#ced4da", "cornerRadius": 3},
 "encoding": {"x": {"datum": 15.26, "type": "quantitative"}, "x2": {"datum": 23.61}, "y": {"datum": 0.1678, "type": "quantitative"}, "y2": {"datum": 0.078}}},
{"data": {"values": [{}]}, "mark": {"type": "text", "text": "Highlight:", "align": "center", "baseline": "middle", "font": "Roboto", "fontSize": 8.5, "color": "#495057"},
 "encoding": {"x": {"datum": -1.131, "type": "quantitative"}, "y": {"datum": 0.2598, "type": "quantitative"}}},
{"data": {"values": [{}]}, "mark": {"type": "text", "text": "New York", "align": "left", "baseline": "middle", "font": "Roboto", "fontSize": 8.5, "color": "#212529"},
 "encoding": {"x": {"datum": 2.147, "type": "quantitative"}, "y": {"datum": 0.2598, "type": "quantitative"}}},
{"data": {"values": [{}]}, "mark": {"type": "text", "text": "↕", "align": "center", "baseline": "middle", "font": "DejaVu Sans", "fontSize": 7, "fontWeight": "bold", "color": "#333"},
 "encoding": {"x": {"datum": 10.4, "type": "quantitative"}, "y": {"datum": 0.2598, "type": "quantitative"}}},
{"data": {"values": [{}]}, "mark": {"type": "text", "text": "Show:", "align": "center", "baseline": "middle", "font": "Roboto", "fontSize": 8.5, "color": "#495057"},
 "encoding": {"x": {"datum": 13.78, "type": "quantitative"}, "y": {"datum": 0.2598, "type": "quantitative"}}},
{"data": {"values": [{}]}, "mark": {"type": "text", "text": "Top 10", "align": "left", "baseline": "middle", "font": "Roboto", "fontSize": 8.5, "color": "#212529"},
 "encoding": {"x": {"datum": 16.29, "type": "quantitative"}, "y": {"datum": 0.2598, "type": "quantitative"}}},
{"data": {"values": [{}]}, "mark": {"type": "text", "text": "↕", "align": "center", "baseline": "middle", "font": "DejaVu Sans", "fontSize": 7, "fontWeight": "bold", "color": "#333"},
 "encoding": {"x": {"datum": 22.2, "type": "quantitative"}, "y": {"datum": 0.2598, "type": "quantitative"}}},
{"data": {"values": [{}]}, "mark": {"type": "text", "text": "Data:", "align": "center", "baseline": "middle", "font": "Roboto", "fontSize": 8.5, "color": "#495057"},
 "encoding": {"x": {"datum": 35.37, "type": "quantitative"}, "y": {"datum": 0.2598, "type": "quantitative"}}},
{"data": {"values": [{}]}, "mark": {"type": "text", "text": "New Cases, 1 Wk. Avg.", "align": "left", "baseline": "middle", "font": "Roboto", "fontSize": 7.3, "color": "#212529"},
 "encoding": {"x": {"datum": 37.62, "type": "quantitative"}, "y": {"datum": 0.2598, "type": "quantitative"}}},
{"data": {"values": [{}]}, "mark": {"type": "text", "text": "↕", "align": "center", "baseline": "middle", "font": "DejaVu Sans", "fontSize": 7, "fontWeight": "bold", "color": "#333"},
 "encoding": {"x": {"datum": 47.8, "type": "quantitative"}, "y": {"datum": 0.2598, "type": "quantitative"}}},
{"data": {"values": [{}]}, "mark": {"type": "text", "text": "Scale:", "align": "center", "baseline": "middle", "font": "Roboto", "fontSize": 8.5, "color": "#495057"},
 "encoding": {"x": {"datum": 50.86, "type": "quantitative"}, "y": {"datum": 0.2598, "type": "quantitative"}}},
{"data": {"values": [{}]}, "mark": {"type": "text", "text": "Log", "align": "center", "baseline": "middle", "font": "Roboto", "fontSize": 8.5, "color": "#ffffff"},
 "encoding": {"x": {"datum": 54.33, "type": "quantitative"}, "y": {"datum": 0.2598, "type": "quantitative"}}},
{"data": {"values": [{}]}, "mark": {"type": "text", "text": "Linear", "align": "center", "baseline": "middle", "font": "Roboto", "fontSize": 8.5, "color": "#ffffff"},
 "encoding": {"x": {"datum": 57.87, "type": "quantitative"}, "y": {"datum": 0.2598, "type": "quantitative"}}}
]
}
